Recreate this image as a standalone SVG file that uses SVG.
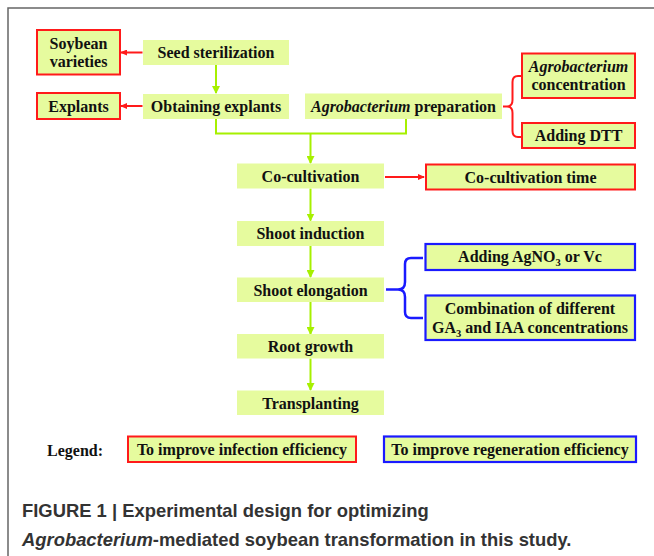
<svg xmlns="http://www.w3.org/2000/svg" width="654" height="556" viewBox="0 0 654 556">
<defs>
<style>
.box{fill:#e6fb9e;stroke:none}
.rbox{fill:#e6fb9e;stroke:#ff1a1a;stroke-width:2}
.bbox{fill:#e6fb9e;stroke:#1a1aff;stroke-width:2.2}
.t{font-family:"Liberation Serif","Times New Roman",serif;font-weight:bold;font-size:16px;fill:#111;text-anchor:middle}
.lg{font-size:16px}
.st{text-anchor:start}
.g{fill:none;stroke:#a6f000;stroke-width:2}
.r{fill:none;stroke:#ff1a1a;stroke-width:2}
.b{fill:none;stroke:#1a1aff;stroke-width:2.5}
.cap{font-family:"Liberation Sans",Arial,sans-serif;font-weight:bold;font-size:18.4px;fill:#333}
</style>
<marker id="ag" markerWidth="8" markerHeight="8" refX="7" refY="4" orient="auto" markerUnits="userSpaceOnUse">
<path d="M0,0 L8,4 L0,8 Z" fill="#a6f000"/>
</marker>
<marker id="ar" markerWidth="7" markerHeight="6" refX="6" refY="3" orient="auto" markerUnits="userSpaceOnUse">
<path d="M0,0 L7,3 L0,6 Z" fill="#ff1a1a"/>
</marker>
</defs>
<rect width="654" height="556" fill="#fff"/>
<path d="M8,556 L8,8 L654,8" fill="none" stroke="#666" stroke-width="1.5"/>

<g id="connectors">
<path class="g" d="M216,65 L216,93" marker-end="url(#ag)"/>
<path class="g" d="M216,119 L216,133.5 L406,133.5 L406,119"/>
<path class="g" d="M310.5,133.5 L310.5,163" marker-end="url(#ag)"/>
<path class="g" d="M310.5,188.5 L310.5,220.5" marker-end="url(#ag)"/>
<path class="g" d="M310.5,246 L310.5,277" marker-end="url(#ag)"/>
<path class="g" d="M310.5,302 L310.5,334" marker-end="url(#ag)"/>
<path class="g" d="M310.5,358.5 L310.5,390" marker-end="url(#ag)"/>
<path class="r" d="M142.5,52.5 L121,52.5" marker-end="url(#ar)"/>
<path class="r" d="M142.5,106 L121,106" marker-end="url(#ar)"/>
<path class="r" d="M385,177 L424,177" marker-end="url(#ar)"/>
<path class="r" d="M521,76 L518,76 Q512.5,76 512.5,82 L512.5,100 Q512.5,106.5 507,106.5 L503,106.5 M507,106.5 Q512.5,106.5 512.5,113 L512.5,131 Q512.5,137 518,137 L521,137"/>
<path class="b" d="M423,258 L411,258 Q405,258 405,264 L405,282 Q405,289.5 398,289.5 L386,289.5 M398,289.5 Q405,289.5 405,297 L405,312 Q405,318 411,318 L423,318"/>
</g>

<g id="seed"><rect class="box" x="143" y="40" width="146" height="25"/><text class="t" x="216" y="58">Seed sterilization</text></g>
<g id="soybean"><rect class="rbox" x="37" y="30" width="83" height="44.5"/><text class="t" x="78.5" y="48.5">Soybean</text><text class="t" x="78.5" y="66.5">varieties</text></g>
<g id="obtaining"><rect class="box" x="143" y="94" width="146" height="25"/><text class="t" x="216" y="112">Obtaining explants</text></g>
<g id="explants"><rect class="rbox" x="37" y="93" width="83" height="26"/><text class="t" x="78.5" y="111.5">Explants</text></g>
<g id="agroprep"><rect class="box" x="305" y="93.5" width="197" height="25.5"/><text class="t" x="403.5" y="111.5"><tspan font-style="italic">Agrobacterium</tspan> preparation</text></g>
<g id="agroconc"><rect class="rbox" x="522" y="53.5" width="113" height="44.5"/><text class="t" x="578.5" y="72" font-style="italic">Agrobacterium</text><text class="t" x="578.5" y="90">concentration</text></g>
<g id="dtt"><rect class="rbox" x="522" y="123" width="113" height="25"/><text class="t" x="578.5" y="141">Adding DTT</text></g>
<g id="cocult"><rect class="box" x="237" y="163.5" width="147" height="25"/><text class="t" x="310.5" y="181.5">Co-cultivation</text></g>
<g id="cotime"><rect class="rbox" x="426" y="164.5" width="209" height="25"/><text class="t" x="530.5" y="182.5">Co-cultivation time</text></g>
<g id="shootind"><rect class="box" x="237" y="221" width="147" height="25"/><text class="t" x="310.5" y="239">Shoot induction</text></g>
<g id="shootelong"><rect class="box" x="237" y="277.5" width="147" height="24.5"/><text class="t" x="310.5" y="295.5">Shoot elongation</text></g>
<g id="root"><rect class="box" x="237" y="334" width="147" height="24.5"/><text class="t" x="310.5" y="352">Root growth</text></g>
<g id="transplant"><rect class="box" x="237" y="390.5" width="147" height="24.5"/><text class="t" x="310.5" y="408.5">Transplanting</text></g>
<g id="agno3"><rect class="bbox" x="425.5" y="244" width="209.5" height="26"/><text class="t" x="530" y="262">Adding AgNO<tspan font-size="10.5" dy="4">3</tspan><tspan dy="-4"> or Vc</tspan></text></g>
<g id="combo"><rect class="bbox" x="425.5" y="295.5" width="209.5" height="44.5"/><text class="t" x="530" y="314">Combination of different</text><text class="t" x="530" y="332.5">GA<tspan font-size="10.5" dy="4">3</tspan><tspan dy="-4"> and IAA concentrations</tspan></text></g>

<g id="legend">
<text class="t lg st" x="47" y="456">Legend:</text>
<rect class="rbox" x="128" y="436.5" width="228" height="25.5"/><text class="t lg" x="242" y="454.5">To improve infection efficiency</text>
<rect class="bbox" x="384" y="436.5" width="252" height="25.5"/><text class="t lg" x="510" y="454.5">To improve regeneration efficiency</text>
</g>

<g id="caption">
<text class="cap" x="22" y="517">FIGURE 1 | Experimental design for optimizing</text>
<text class="cap" x="22" y="546"><tspan font-style="italic">Agrobacterium</tspan>-mediated soybean transformation in this study.</text>
</g>
</svg>
